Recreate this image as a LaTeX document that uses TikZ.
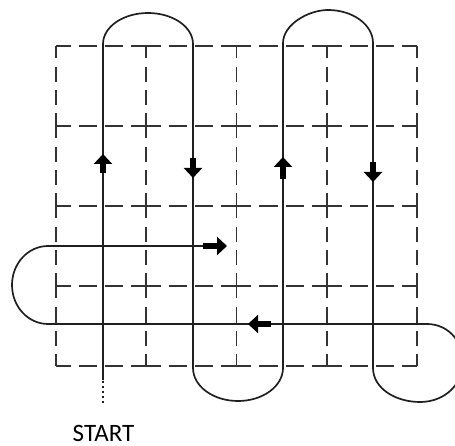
\documentclass[tikz,border=0pt]{standalone}
\usepackage{fontspec}
\setmainfont{Carlito}
\usetikzlibrary{arrows.meta}
\begin{document}
\begin{tikzpicture}[x=1pt,y=-1pt,
  gridv/.style={draw=black!80, line width=1.8pt, dash pattern=on 25pt off 9pt on 15pt off 8pt on 15pt off 8pt, dash phase=12.5pt},
  gridh/.style={draw=black!80, line width=1.8pt, dash pattern=on 30pt off 8pt on 18.1pt off 8pt on 18.1pt off 8pt, dash phase=15pt},
  route/.style={draw=black!88, line width=1.7pt, line join=round},
  dotroute/.style={draw=black!88, line width=1.7pt, dash pattern=on 2.5pt off 2.5pt},
  fat/.style={draw=black, line width=5.5pt, -{Triangle[length=10pt,width=18pt]}},
  starttext/.style={font=\fontsize{25}{28}\selectfont, inner sep=0pt, text depth=0pt, anchor=base}
]
\useasboundingbox (0,0) rectangle (455,446);
\clip (0,0) rectangle (455,446);

% grid
\foreach \x in {56,146.25,236.5,326.75,417} \draw[gridv] (\x,46) -- (\x,366);
\foreach \y in {46,126,206,286,366} \draw[gridh] (56,\y) -- (417,\y);

% route points
\coordinate (d0) at (103,403);
\coordinate (d1) at (103,380);
\coordinate (c1t) at (103,44);
\coordinate (c2t) at (193,44);
\coordinate (c2b) at (193,368);
\coordinate (c3b) at (283,368);
\coordinate (c3t) at (283,43);
\coordinate (c4t) at (373,43);
\coordinate (c4b) at (373,368);
\coordinate (r2e) at (427,324);
\coordinate (r2w) at (48,324);
\coordinate (r1w) at (48,246);
\coordinate (r1e) at (210,246);

\draw[dotroute] (d0) -- (d1);
\draw[route] (d1) -- (c1t)
  .. controls (103,26.9) and (123.1,13) .. (148,13)
  .. controls (172.9,13) and (193,26.9) .. (c2t)
  -- (c2b)
  .. controls (193,386.2) and (213.1,401) .. (238,401)
  .. controls (262.9,401) and (283,386.2) .. (c3b)
  -- (c3t)
  .. controls (283,24.8) and (308.1,10) .. (328,10)
  .. controls (352.9,10) and (373,24.8) .. (c4t)
  -- (c4b)
  .. controls (373,388) and (395,402) .. (420,402)
  .. controls (445,402) and (463,384) .. (463,362)
  .. controls (463,340) and (447,324) .. (r2e)
  -- (r2w)
  .. controls (28.1,324) and (12,306.5) .. (12,285)
  .. controls (12,263.5) and (28.1,246) .. (r1w)
  -- (r1e);

% direction arrows
\coordinate (a1s) at (103,173); \coordinate (a1e) at (103,154);
\coordinate (a2s) at (193,158); \coordinate (a2e) at (193,178);
\coordinate (a3s) at (283,179); \coordinate (a3e) at (283,157);
\coordinate (a4s) at (373,162); \coordinate (a4e) at (373,182);
\coordinate (a5s) at (203,246); \coordinate (a5e) at (227,246);
\coordinate (a6s) at (271,324); \coordinate (a6e) at (248,324);
\draw[fat] (a1s) -- (a1e);
\draw[fat] (a2s) -- (a2e);
\draw[fat] (a3s) -- (a3e);
\draw[fat] (a4s) -- (a4e);
\draw[fat] (a5s) -- (a5e);
\draw[fat] (a6s) -- (a6e);

\node[starttext] (start) at (103.5,441) {START};
\end{tikzpicture}
\end{document}
